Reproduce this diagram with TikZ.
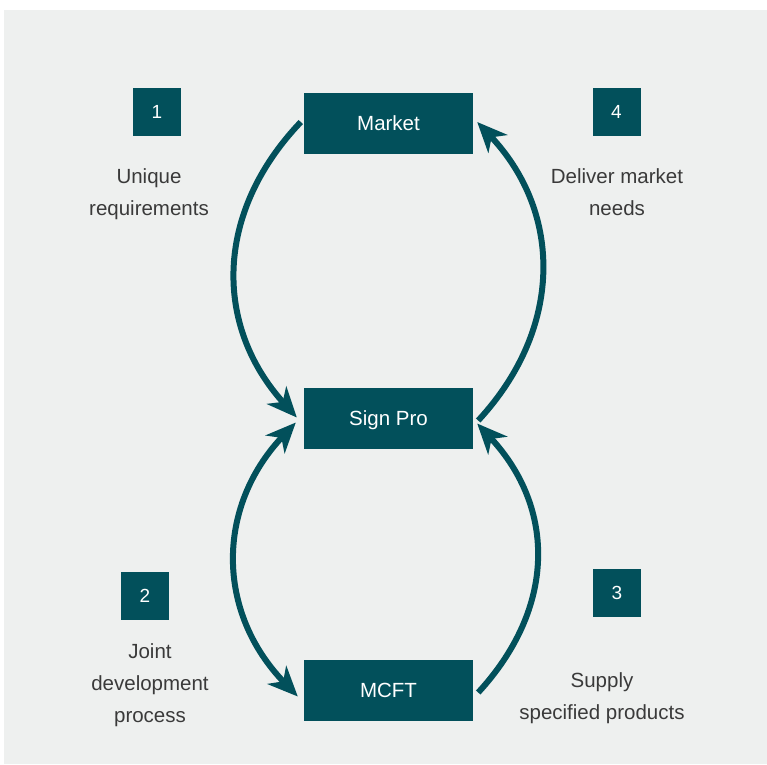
\documentclass[tikz,border=0pt]{standalone}
\usepackage{fontspec}
\setmainfont{Liberation Sans}
\usetikzlibrary{arrows.meta}
\definecolor{teal}{HTML}{02505B}
\definecolor{bg}{HTML}{EEF0EF}
\definecolor{txt}{HTML}{3A3A3A}
\begin{document}
\begin{tikzpicture}[x=1pt,y=-1pt,
  mainbox/.style={fill=teal,text=white,minimum width=169pt,minimum height=61pt,inner sep=0pt,text height=14.7pt,text depth=0pt,font=\fontsize{20.5}{24}\selectfont},
  numbox/.style={fill=teal,text=white,minimum width=48pt,minimum height=48pt,inner sep=0pt,text height=13.6pt,text depth=0pt,font=\fontsize{19}{22}\selectfont},
  lbl/.style={text=txt,align=center,font=\fontsize{20.5}{32}\selectfont,inner sep=0pt},
  flow/.style={draw=teal,line width=6pt,-{Stealth[length=30pt,width=26pt,inset=9pt]}},
  flow2/.style={draw=teal,line width=6pt,{Stealth[length=30pt,width=26pt,inset=9pt]}-{Stealth[length=30pt,width=26pt,inset=9pt]}}
]
\useasboundingbox (0,0) rectangle (767,764);
\fill[white] (0,0) rectangle (767,764);
\fill[bg] (4,10) rectangle (767,764);

\node[mainbox] (market) at (388.5,123) {Market};
\node[mainbox] (sign) at (388.5,418.5) {Sign Pro};
\node[mainbox] (mcft) at (388.5,690.5) {MCFT};

\node[numbox] (n1) at (157,112) {1};
\node[numbox] (n4) at (616.5,112) {4};
\node[numbox] (n2) at (145,595.5) {2};
\node[numbox] (n3) at (617,592.5) {3};

\node[lbl] (t1) at (149,194) {Unique\\requirements};
\node[lbl] (t4) at (617,192) {Deliver market\\needs};
\node[lbl] (t2) at (150,685) {Joint\\development\\process};
\node[lbl] (t3) at (602,698) {Supply\\specified products};

\draw[flow] ([xshift=-3pt,yshift=1pt]market.west) .. controls (214,213) and (214,326) .. ([xshift=-7pt,yshift=1pt]sign.west);
\draw[flow] ([xshift=5pt,yshift=-2pt]sign.east) .. controls (563,329) and (563,213) .. ([xshift=4pt,yshift=1pt]market.east);
\draw[flow2] ([xshift=-8pt,yshift=-4pt]sign.west) .. controls (216,507) and (216,612) .. ([xshift=-6pt,yshift=-6pt]mcft.west);
\draw[flow] ([xshift=5pt,yshift=-2pt]mcft.east) .. controls (556,608) and (556,508) .. ([xshift=4pt,yshift=-5pt]sign.east);
\end{tikzpicture}
\end{document}
